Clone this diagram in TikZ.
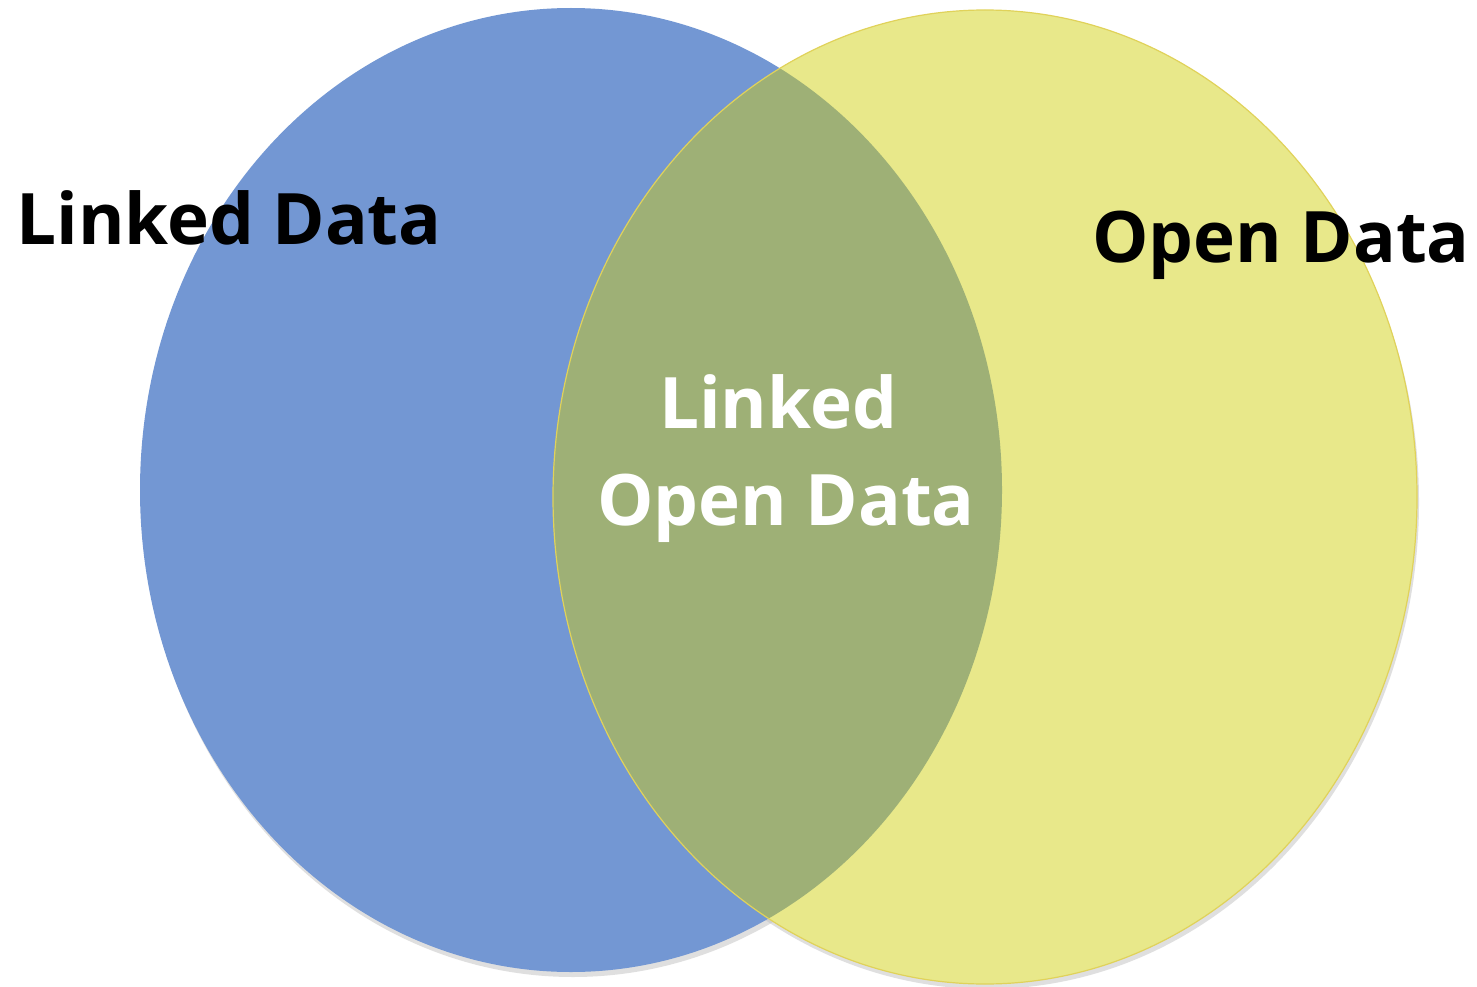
\documentclass[tikz,border=0pt]{standalone}
\usepackage{fontspec}
\setmainfont{Open Sans}
\begin{document}
\begin{tikzpicture}[x=1pt,y=-1pt,
  lbl/.style={font=\fontsize{71}{80}\selectfont\bfseries, inner sep=0pt, anchor=base}]
\definecolor{bluefill}{HTML}{7397D3}
\definecolor{yellowfill}{HTML}{E8E88A}
\definecolor{yellowline}{HTML}{E0D25A}
\definecolor{greenfill}{HTML}{9EB076}
\useasboundingbox (0,0) rectangle (1477,987);
% soft shadows
\fill[black!25, opacity=0.5] (573,495) ellipse [x radius=431, y radius=482];
\fill[black!25, opacity=0.5] (987,502) ellipse [x radius=432, y radius=487];
\fill[bluefill] (571,490) ellipse [x radius=431, y radius=482];
\fill[yellowfill] (985,497) ellipse [x radius=432, y radius=487];
\begin{scope}
  \clip (571,490) ellipse [x radius=431, y radius=482];
  \fill[greenfill] (985,497) ellipse [x radius=432, y radius=487];
\end{scope}
\draw[yellowline, line width=1.2pt] (985,497) ellipse [x radius=432, y radius=487];
% labels
\node[lbl] (ld) at (229,244) {Linked Data};
\node[lbl] (od) at (1281,262) {Open Data};
\node[lbl, text=white] (lod1) at (778,428) {Linked};
\node[lbl, text=white] (lod2) at (786,525) {Open Data};
\end{tikzpicture}
\end{document}
